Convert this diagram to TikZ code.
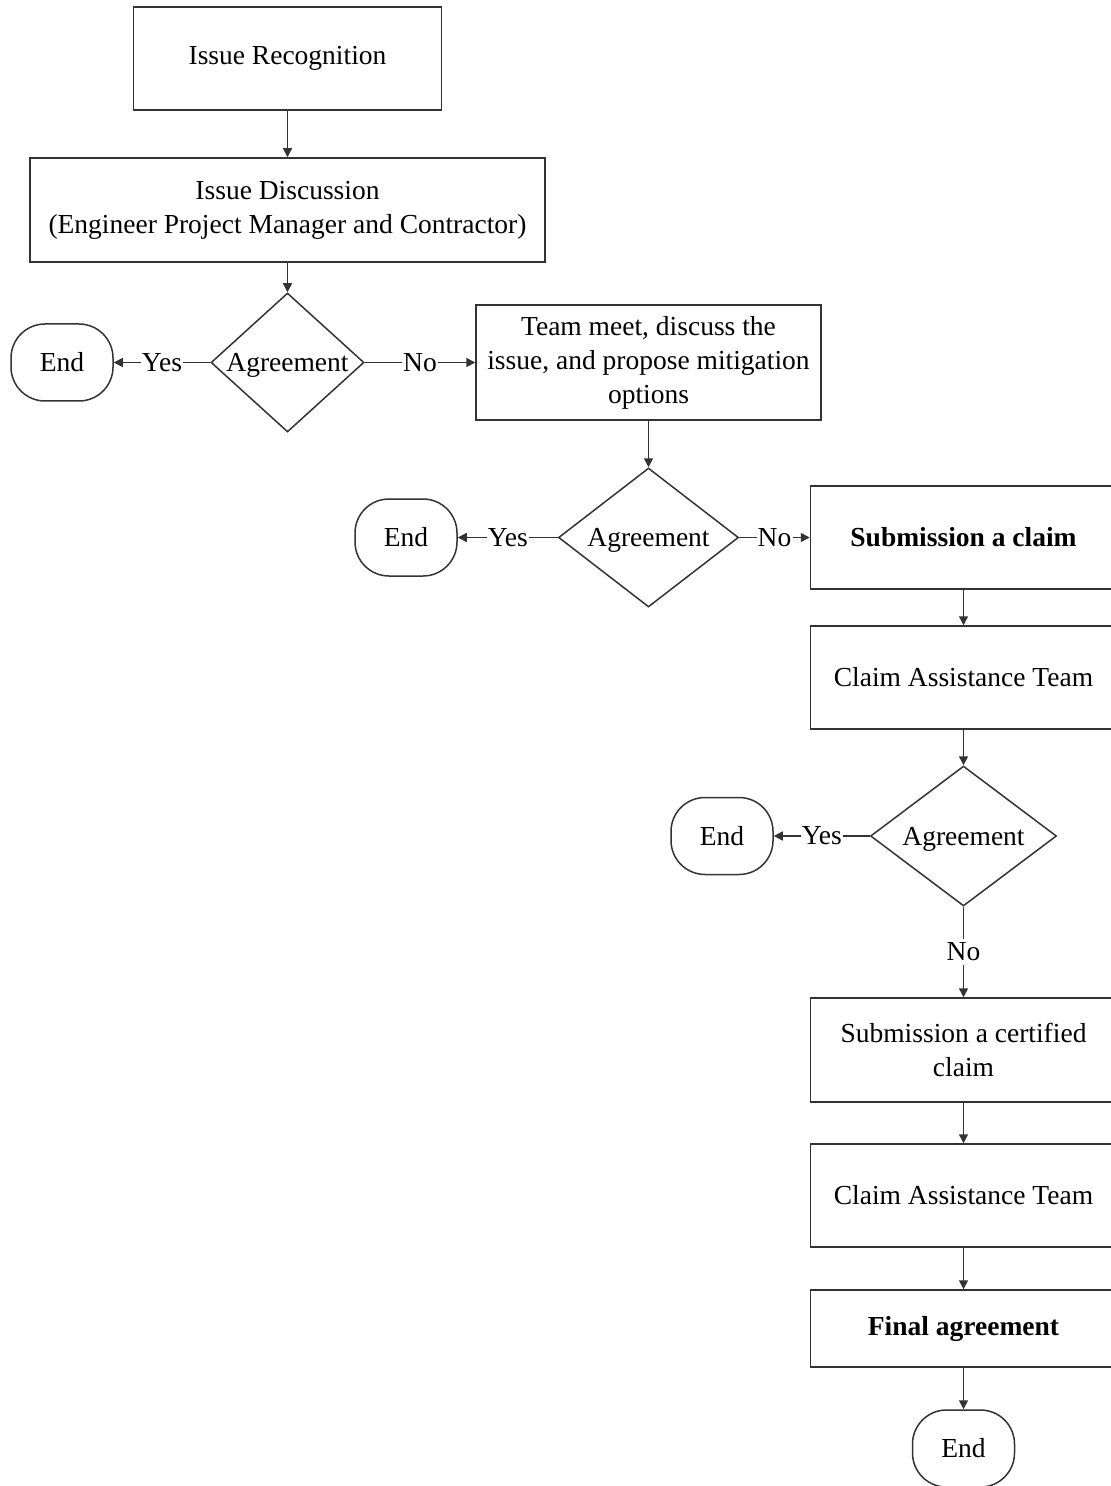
\documentclass[tikz,border=0pt]{standalone}
\usepackage{fontspec}
\setmainfont{Liberation Serif}
\usetikzlibrary{shapes.geometric,arrows.meta}
\definecolor{linec}{HTML}{333333}
\begin{document}
\begin{tikzpicture}[x=0.5pt,y=-0.5pt,
  txt/.style={font=\fontsize{13.75}{17}\selectfont, text=black},
  box/.style={txt, draw=linec, line width=0.75pt, inner sep=0pt, align=center},
  endbox/.style={box, rounded corners=17pt, minimum width=51pt, minimum height=38.5pt},
  dec/.style={draw=linec, line width=0.75pt, shape=diamond, inner sep=0pt},
  dtext/.style={label={[txt, yshift=-1.5pt]center:#1}},
  arr/.style={draw=linec, line width=0.75pt, -{Triangle[length=4.5pt,width=4.5pt]}},
  lbl/.style={txt, fill=white, inner sep=0.6pt}
]
\useasboundingbox (0,0) rectangle (1111,1486);
\clip (0,0) rectangle (1111,1486);

\node[box, minimum width=154pt, minimum height=51.5pt] (ir) at (287.5,58.5) {Issue Recognition};
\node[box, minimum width=257.5pt, minimum height=52pt] (id) at (287.5,210) {Issue Discussion\\(Engineer Project Manager and Contractor)};

\node[dec, minimum width=76.5pt, minimum height=69.5pt, dtext=Agreement] (d1) at (287.5,362.5) {};
\node[endbox] (e1) at (62,362.5) {End};
\node[box, minimum width=172.5pt, minimum height=57.5pt] (tm) at (648.5,362.5) {Team meet, discuss the\\issue, and propose mitigation\\options};

\node[dec, minimum width=90pt, minimum height=69.5pt, dtext=Agreement] (d2) at (648.5,537.5) {};
\node[endbox] (e2) at (406,537.5) {End};
\node[box, minimum width=153pt, minimum height=51.5pt, font=\fontsize{13.75}{17}\selectfont\bfseries] (sc) at (963.5,537.5) {Submission a claim};
\node[box, minimum width=153pt, minimum height=51.5pt] (cat1) at (963.5,677.5) {Claim Assistance Team};

\node[dec, minimum width=93pt, minimum height=70pt, dtext=Agreement] (d3) at (963.5,836) {};
\node[endbox] (e3) at (722,836) {End};
\node[box, minimum width=153pt, minimum height=52pt] (scc) at (963.5,1050) {Submission a certified\\claim};
\node[box, minimum width=153pt, minimum height=51.5pt] (cat2) at (963.5,1195.5) {Claim Assistance Team};
\node[box, minimum width=153pt, minimum height=38.5pt, font=\fontsize{13.75}{17}\selectfont\bfseries] (fa) at (963.5,1328.5) {Final agreement};
\node[endbox] (e4) at (963.5,1448.5) {End};

\draw[arr] (ir.south) -- (id.north);
\draw[arr] (id.south) -- (d1.north);
\draw[arr] (d1.west) -- node[lbl]{Yes} (e1.east);
\draw[arr] (d1.east) -- node[lbl]{No} (tm.west);
\draw[arr] (tm.south) -- (d2.north);
\draw[arr] (d2.west) -- node[lbl]{Yes} (e2.east);
\draw[arr] (d2.east) -- node[lbl]{No} (sc.west);
\draw[arr] (sc.south) -- (cat1.north);
\draw[arr] (cat1.south) -- (d3.north);
\draw[arr] (d3.west) -- node[lbl]{Yes} (e3.east);
\draw[arr] (d3.south) -- node[lbl, inner ysep=2pt]{No} (scc.north);
\draw[arr] (scc.south) -- (cat2.north);
\draw[arr] (cat2.south) -- (fa.north);
\draw[arr] (fa.south) -- (e4.north);
\end{tikzpicture}
\end{document}
